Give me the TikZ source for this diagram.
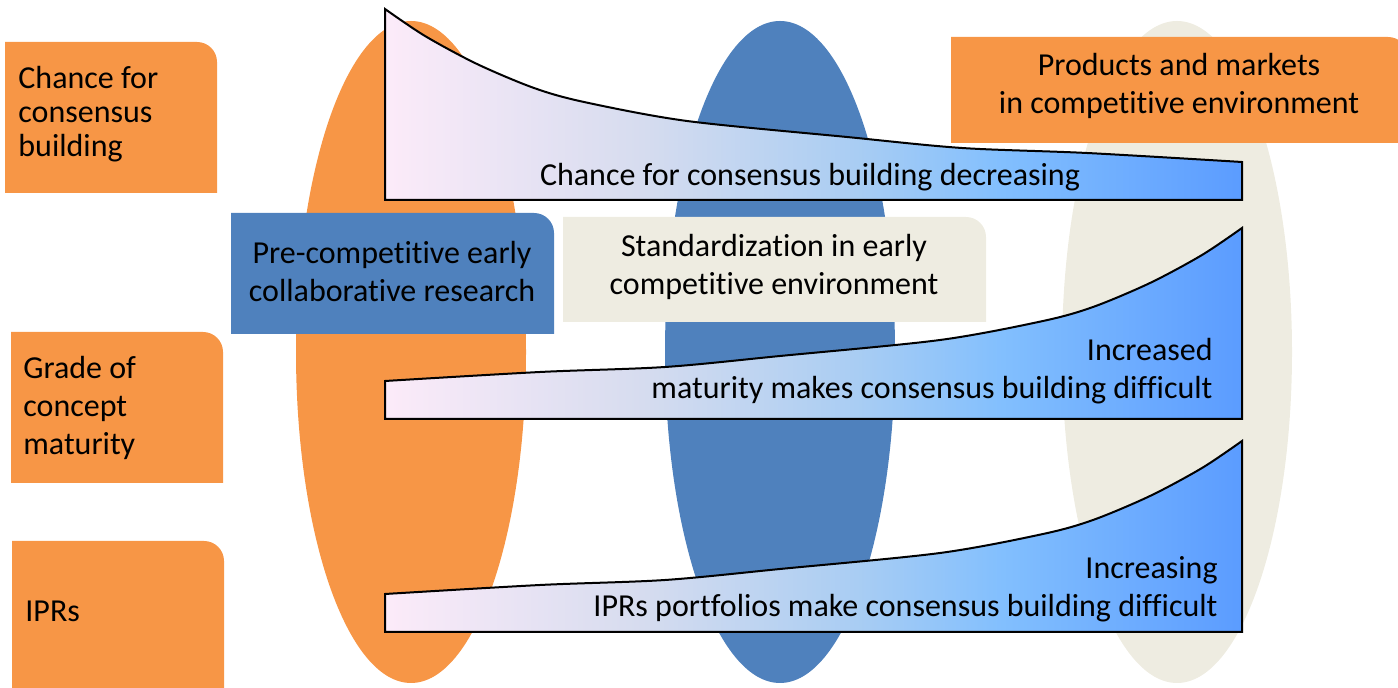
\documentclass[tikz,border=0pt]{standalone}
\usepackage{fontspec}
\setmainfont{Carlito}[Ligatures=NoCommon]
\usetikzlibrary{shapes.geometric}
\definecolor{orng}{HTML}{F79646}
\definecolor{blu}{HTML}{4F81BD}
\definecolor{beig}{HTML}{EEECE1}
\definecolor{g0}{RGB}{252,235,249}
\definecolor{g1}{RGB}{214,220,239}
\definecolor{g2}{RGB}{169,205,243}
\definecolor{g3}{RGB}{130,191,254}
\definecolor{g4}{RGB}{91,156,255}
\pgfdeclarehorizontalshading{trapshade}{100bp}{color(0bp)=(g0); color(25bp)=(g0); color(40bp)=(g1); color(52.5bp)=(g2); color(61bp)=(g3); color(75bp)=(g4); color(100bp)=(g4)}
% box with one rounded (top right) corner: x1 y1 x2 y2 colour
\newcommand\cornerbox[5]{%
  \fill[#5] (#1,#2) -- (#3-20,#2) .. controls (#3-8.95,#2) and (#3,#2+8.95) .. (#3,#2+20) -- (#3,#4) -- (#1,#4) -- cycle;}
\tikzset{
  phase/.style={ellipse, inner sep=0pt, minimum width=115pt, minimum height=331pt},
  trap/.style={draw=black, line width=1pt, shading=trapshade, line join=miter},
  lbl/.style={font=\fontsize{16}{19}\selectfont, inner sep=0pt},
  sidelbl/.style={lbl, align=left, anchor=base west},
}
\begin{document}
\begin{tikzpicture}[x=0.5pt, y=-0.5pt]
\clip (0,0) rectangle (1398,688);
% phase ellipses
\node[phase, fill=orng] (e1) at (411,352) {};
\node[phase, fill=blu]  (e2) at (780,352) {};
\node[phase, fill=beig] (e3) at (1177,352) {};
% left boxes
\cornerbox{5}{42}{217}{193}{orng}
\cornerbox{11}{332}{223}{483}{orng}
\cornerbox{12}{541}{224}{700}{orng}
\node[sidelbl, font=\fontsize{16}{17.2}\selectfont] (l1) at (18,157) {Chance for\\consensus\\building};
\node[sidelbl] (l2) at (23,455) {Grade of\\concept\\maturity};
\node[sidelbl] (l3) at (25,622) {IPRs};
% middle boxes
\cornerbox{231}{213}{554}{334}{blu}
\node[lbl, align=center, anchor=base] (b1) at (392,302) {Pre-competitive early\\collaborative research};
\cornerbox{563}{217}{986}{322}{beig}
\node[lbl, align=center, anchor=base] (b2) at (774,295) {Standardization in early\\competitive environment};
\cornerbox{951}{37}{1408}{143}{orng}
\node[lbl, align=center, anchor=base] (b3) at (1179,114) {Products and markets\\in competitive environment};
% trapezoids
\draw[trap] (385,200) -- plot[smooth, tension=0.5] coordinates {(385,9) (425,36) (477,64) (534,88) (584,102) (687,121) (847,137) (962,148) (1087,153) (1242,162)} -- (1242,200) -- cycle;
\node[lbl, anchor=base] (t1) at (810,186) {Chance for consensus building decreasing};
\draw[trap] (385,419) -- plot[smooth, tension=0.5] coordinates {(385,381) (540,372) (665,367) (780,356) (940,340) (1043,321) (1093,307) (1150,283) (1202,255) (1242,228)} -- (1242,419) -- cycle;
\node[lbl, align=right, anchor=base east] (t2) at (1213,399) {Increased\\maturity makes consensus building difficult};
\draw[trap, shift={(0,213)}] (385,419) -- plot[smooth, tension=0.5] coordinates {(385,381) (540,372) (665,367) (780,356) (940,340) (1043,321) (1093,307) (1150,283) (1202,255) (1242,228)} -- (1242,419) -- cycle;
\node[lbl, align=right, anchor=base east] (t3) at (1218,617) {Increasing\\IPRs portfolios make consensus building difficult};
\end{tikzpicture}
\end{document}
